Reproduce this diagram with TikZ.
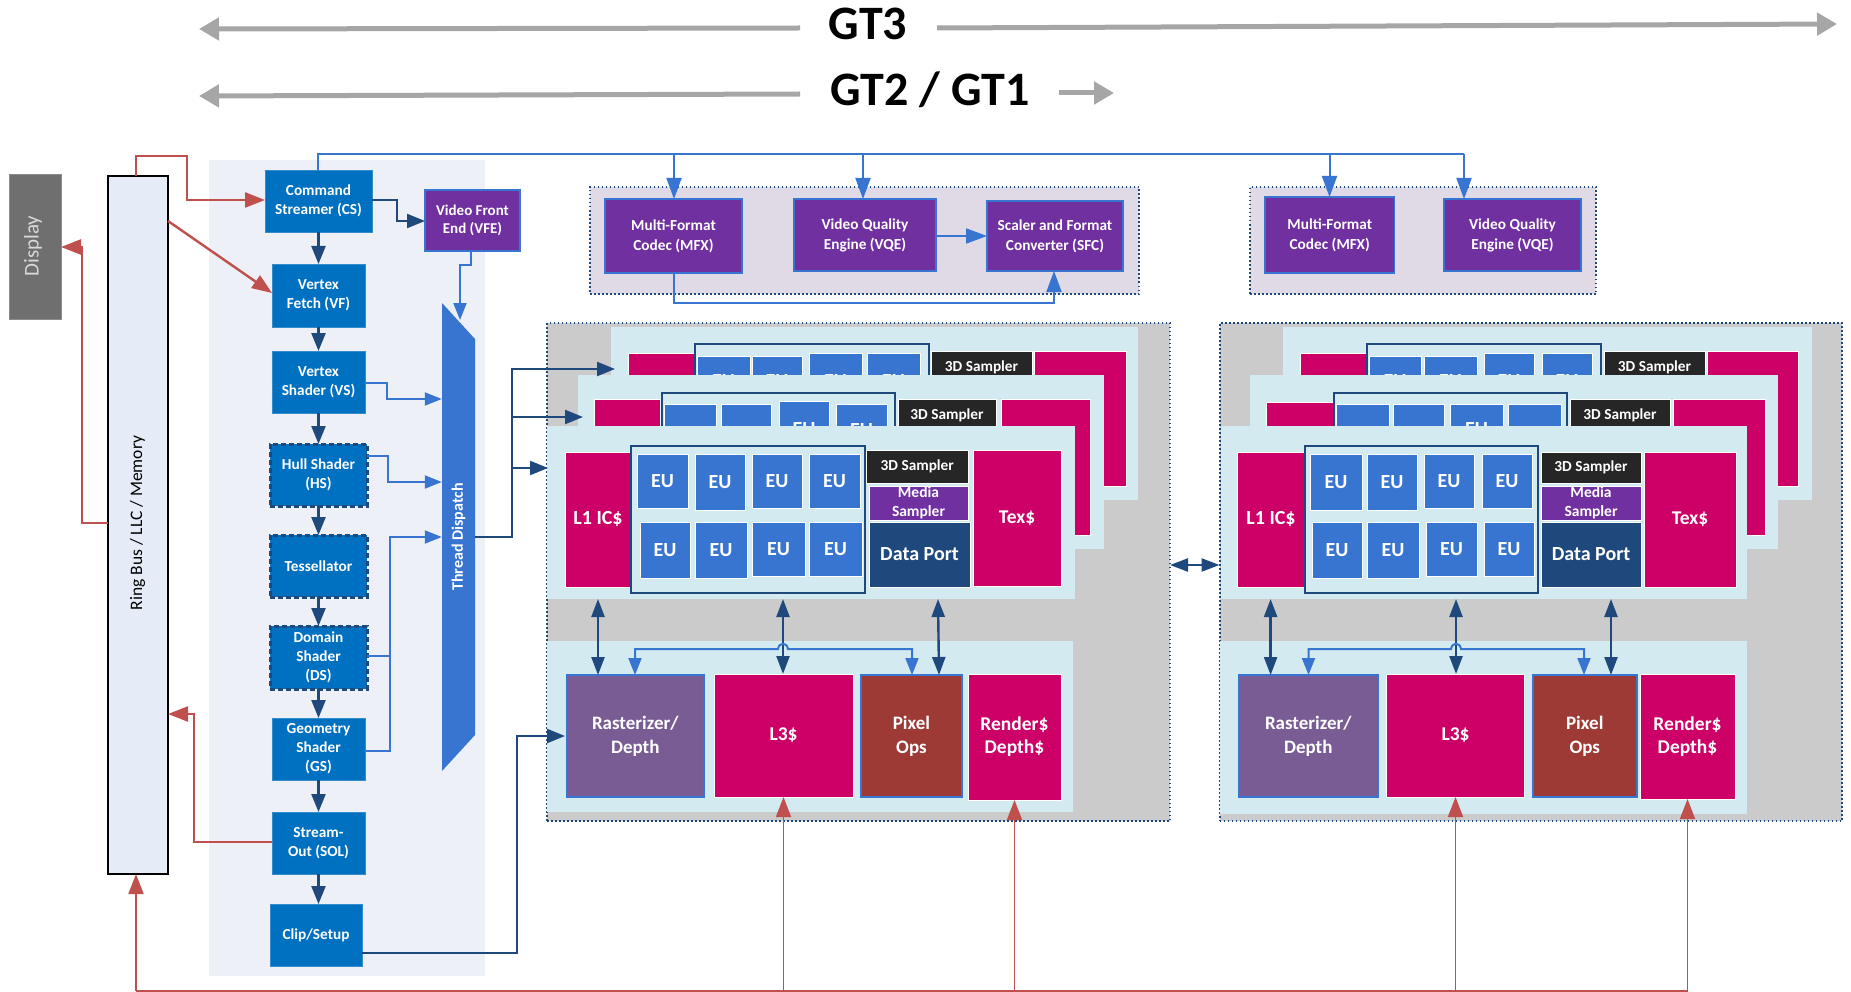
\documentclass[tikz,border=0pt]{standalone}
\usepackage{fontspec}
\setmainfont{Carlito}
\usetikzlibrary{arrows.meta,calc}
\definecolor{cred}{HTML}{C0504D}
\definecolor{cdark}{HTML}{1F497D}
\definecolor{cblue}{HTML}{3875D0}
\definecolor{cbox}{HTML}{0070C0}
\definecolor{cpurple}{HTML}{7030A0}
\definecolor{cmag}{HTML}{CC0066}
\definecolor{cblack}{HTML}{262626}
\definecolor{clight}{HTML}{D2EAF0}
\definecolor{cgray}{HTML}{CBCBCB}
\definecolor{cpanel}{HTML}{EDF0F6}
\definecolor{cring}{HTML}{E6ECF7}
\definecolor{cdisp}{HTML}{6F6F6F}
\definecolor{cmedia}{HTML}{E0DAE7}
\definecolor{craster}{HTML}{7A5C95}
\definecolor{cpixel}{HTML}{9E3A36}
\definecolor{carrow}{HTML}{A6A6A6}
\newcommand{\bx}[7][]{%
  \pgfmathsetmacro\bxw{#5-(#3)}\pgfmathsetmacro\bxh{#6-(#4)}%
  \node[rectangle,inner sep=0pt,outer sep=0pt,align=center,minimum width=\bxw pt,minimum height=\bxh pt,#1] (#2) at ({(#3+#5)/2},{(#4+#6)/2}) {#7};}
\tikzset{
  wtt/.style 2 args={text=white,font=\fontsize{#1}{#2}\selectfont\bfseries},
  pipe/.style={fill=cbox,draw=cbox!80!white,line width=.8pt,wtt={15.3}{19}},
  pipedash/.style={fill=cbox,draw=cdark,line width=3pt,dash pattern=on 5pt off 3pt,wtt={15.3}{19}},
  vid/.style={fill=cpurple,draw=cblue,line width=1.2pt,wtt={15.3}{20}},
  vfebox/.style={fill=cpurple,draw=cblue,line width=1.2pt,wtt={15}{17.5}},
  tile/.style={draw=white,line width=1pt},
  eubox/.style={tile,fill=cblue,wtt={20}{24}},
  magbox/.style={tile,fill=cmag,wtt={19.5}{23}},
  samp/.style={tile,fill=cblack,wtt={15.3}{18}},
  msamp/.style={tile,fill=cpurple,wtt={15.5}{19}},
  dport/.style={tile,fill=cdark,wtt={20}{24}},
  frm/.style={draw=cdark,line width=2pt},
  slicebg/.style={fill=clight},
  cluster/.style={fill=cgray,draw=cdark,line width=2pt,dash pattern=on 1.5pt off 2.5pt},
  mediabg/.style={fill=cmedia,draw=cdark,line width=2pt,dash pattern=on 1.5pt off 2.5pt},
  rasterbox/.style={fill=craster,draw=cblue,line width=2pt,wtt={19}{24}},
  pixelbox/.style={fill=cpixel,draw=cblue,line width=2pt,wtt={19}{24}},
  redline/.style={draw=cred,line width=2.4pt,-{Triangle[length=20pt,width=15pt]}},
  redthin/.style={draw=cred,line width=1.8pt,-{Triangle[length=20pt,width=15pt]}},
  darkline/.style={draw=cdark,line width=2.4pt,-{Triangle[length=18pt,width=14pt]}},
  bothdark/.style={draw=cdark,line width=2.4pt,{Triangle[length=18pt,width=13pt]}-{Triangle[length=18pt,width=13pt]}},
  blueline/.style={draw=cblue,line width=2pt,-{Triangle[length=17pt,width=13pt]}},
  bluedown/.style={draw=cblue,line width=2pt,-{Triangle[length=21pt,width=15pt]}},
  bothblue/.style={draw=cblue,line width=2pt,{Triangle[length=17pt,width=13pt]}-{Triangle[length=17pt,width=13pt]}},
  greyline/.style={draw=carrow,line width=5pt,-{Triangle[length=20pt,width=22pt]}},
  title/.style={text=black,font=\fontsize{48}{50}\selectfont\bfseries,inner sep=0pt},
}
\begin{document}
\begin{tikzpicture}[x=1pt,y=-1pt]
\useasboundingbox (0,0) rectangle (1851,992);
% titles
\node[title] (gtthree) at (868,24) {GT3};
\node[title] (gttwo) at (930,90) {GT2 / GT1};
\coordinate (gtla) at (800,28); \coordinate (gtlb) at (199,29);
\coordinate (gtra) at (937,28); \coordinate (gtrb) at (1837,24);
\coordinate (gsla) at (800,94); \coordinate (gslb) at (199,96);
\coordinate (gsra) at (1059,93); \coordinate (gsrb) at (1114,93);
\draw[greyline] (gtla) -- (gtlb);
\draw[greyline] (gtra) -- (gtrb);
\draw[greyline] (gsla) -- (gslb);
\draw[greyline] (gsra) -- (gsrb);
% left column
\bx[fill=cdisp,draw=cdisp!80!white,line width=.8pt]{display}{9}{174}{61}{319}{}
\node[rotate=90,text=white!85!black,font=\fontsize{21}{23}\selectfont] (displaytxt) at (33,246) {Display};
\bx[fill=cring,draw=black,line width=2.6pt]{ring}{108}{176}{168}{874}{}
\node[rotate=90,text=black,font=\fontsize{17.5}{20}\selectfont] (ringtxt) at (137.5,523) {Ring Bus / LLC / Memory};
\bx[fill=cpanel]{panel}{209}{160}{485}{976}{}
\bx[pipe]{cs}{265}{170}{372}{232}{Command\\Streamer (CS)}
\bx[pipe]{vf}{272}{264}{365}{327}{Vertex\\Fetch (VF)}
\bx[pipe]{vs}{272}{351}{365}{413}{Vertex\\Shader (VS)}
\bx[pipedash]{hs}{270}{444}{367}{506}{Hull Shader\\(HS)}
\bx[pipedash]{tess}{270}{535}{367}{597}{Tessellator}
\bx[pipedash]{ds}{270}{626}{367}{689}{Domain\\Shader\\(DS)}
\bx[pipe]{gs}{272}{718}{365}{780}{Geometry\\Shader\\(GS)}
\bx[pipe]{sol}{272}{812}{365}{874}{Stream-\\Out (SOL)}
\bx[pipe]{clip}{270}{904}{362}{966}{Clip/Setup}
\bx[vfebox]{vfe}{425}{190}{520}{251}{Video Front\\End (VFE)}
\fill[cblue] (442,303) -- (475,339) -- (475,735) -- (442,771) -- cycle;
\node[rotate=90,text=white,font=\fontsize{16}{18}\selectfont\bfseries,inner sep=0pt,minimum width=468pt,minimum height=33pt] (td) at (458.5,537) {\raisebox{-2pt}{Thread Dispatch}};
% media blocks
\bx[mediabg]{mediaA}{590}{187}{1139}{294}{}
\bx[vid]{mfxA}{605}{199}{742}{273}{Multi-Format\\Codec (MFX)}
\bx[vid]{vqeA}{794}{199}{936}{271}{Video Quality\\Engine (VQE)}
\bx[vid]{sfcA}{987}{201}{1123}{271}{Scaler and Format\\Converter (SFC)}
\bx[mediabg]{mediaB}{1250}{187}{1596}{294}{}
\bx[vid]{mfxB}{1265}{197}{1394.5}{273}{Multi-Format\\Codec (MFX)}
\bx[vid]{vqeB}{1444}{199}{1581}{271}{Video Quality\\Engine (VQE)}
% cluster A
\bx[cluster]{clA}{547}{323}{1170}{821}{}
\bx[slicebg]{aTbg}{611}{327}{1138}{500}{}
\bx[magbox]{aTl}{628}{353}{695}{488}{}
\bx[frm]{aTf}{695}{344}{929}{490}{}
\bx[eubox]{aTe1}{697}{356}{750}{406}{EU}
\bx[eubox]{aTe2}{752}{356}{802}{406}{EU}
\bx[eubox]{aTe3}{809}{353}{862}{409}{EU}
\bx[eubox]{aTe4}{867}{353}{920}{409}{EU}
\bx[samp]{aTs}{931}{351}{1032}{384}{3D Sampler}
\bx[magbox]{aTt}{1034}{351}{1126}{486}{}
\bx[slicebg]{aMbg}{578}{375}{1104}{549}{}
\bx[magbox]{aMl}{594}{399}{660}{535}{}
\bx[frm]{aMf}{662}{393}{895}{540}{}
\bx[eubox]{aMe1}{664}{404}{716}{462}{EU}
\bx[eubox]{aMe2}{721}{404}{771}{462}{EU}
\bx[eubox]{aMe3}{779}{401}{829}{458}{EU}
\bx[eubox]{aMe4}{836}{404}{887}{456}{EU}
\bx[samp]{aMs}{898}{399}{996}{432}{3D Sampler}
\bx[magbox]{aMt}{1001}{399}{1090}{535}{}
\bx[slicebg]{aFbg}{547}{426}{1075}{599}{}
\bx[magbox,wtt={20}{24}]{aFl}{565}{452}{631}{587}{L1 IC\$}
\bx[frm]{aFf}{631}{446}{864.5}{593}{}
\bx[eubox]{aFe1}{637}{454}{688}{508}{EU}
\bx[eubox]{aFe2}{695}{454}{745}{510}{EU}
\bx[eubox]{aFe3}{752}{454}{802}{508}{EU}
\bx[eubox]{aFe4}{809}{454}{860}{508}{EU}
\bx[eubox]{aFe5}{640}{522}{690}{578}{EU}
\bx[eubox]{aFe6}{695}{522}{747}{578}{EU}
\bx[eubox]{aFe7}{752}{522}{805}{576}{EU}
\bx[eubox]{aFe8}{809}{522}{862}{576}{EU}
\bx[samp]{aFs}{866.5}{450}{968}{483}{3D Sampler}
\bx[msamp]{aFm}{869}{486}{968}{520}{Media\\Sampler}
\bx[dport]{aFd}{869}{522}{970}{587}{Data Port}
\bx[magbox]{aFt}{973}{450}{1061}{586}{Tex\$}
\bx[slicebg]{aLbg}{547}{641}{1073}{812}{}
\bx[rasterbox]{aR}{566.5}{675}{704}{797}{Rasterizer/\\Depth}
\bx[magbox]{aL}{714}{674}{853}{797}{L3\$}
\bx[pixelbox]{aP}{861}{675}{962}{797}{Pixel\\Ops}
\bx[magbox]{aD}{968}{674}{1061}{800}{Render\$\\Depth\$}
% cluster B
\bx[cluster]{clB}{1219.5}{323}{1842}{821}{}
\bx[slicebg]{bTbg}{1283}{327}{1812}{500}{}
\bx[magbox]{bTl}{1300}{353}{1367}{488}{}
\bx[frm]{bTf}{1367}{344}{1601}{490}{}
\bx[eubox]{bTe1}{1369}{356}{1421}{406}{EU}
\bx[eubox]{bTe2}{1424}{356}{1477}{406}{EU}
\bx[eubox]{bTe3}{1484}{353}{1534}{409}{EU}
\bx[eubox]{bTe4}{1542}{353}{1592}{409}{EU}
\bx[samp]{bTs}{1604}{351}{1705}{384}{3D Sampler}
\bx[magbox]{bTt}{1707}{351}{1798}{486}{}
\bx[slicebg]{bMbg}{1250}{375}{1778}{549}{}
\bx[magbox]{bMl}{1266}{402}{1334}{535}{}
\bx[frm]{bMf}{1334}{393}{1567}{540}{}
\bx[eubox]{bMe1}{1336}{404}{1389}{462}{EU}
\bx[eubox]{bMe2}{1393}{404}{1444}{462}{EU}
\bx[eubox]{bMe3}{1450}{404}{1503}{455}{EU}
\bx[eubox]{bMe4}{1508}{404}{1561}{462}{EU}
\bx[samp]{bMs}{1570}{399}{1670}{432}{3D Sampler}
\bx[magbox]{bMt}{1673}{399}{1765}{535}{}
\bx[slicebg]{bFbg}{1221}{426}{1747}{599}{}
\bx[magbox,wtt={20}{24}]{bFl}{1237}{452}{1305}{587}{L1 IC\$}
\bx[frm]{bFf}{1305}{446}{1538}{593}{}
\bx[eubox]{bFe1}{1310}{454}{1362}{510}{EU}
\bx[eubox]{bFe2}{1367}{454}{1417}{510}{EU}
\bx[eubox]{bFe3}{1424}{454}{1474}{508}{EU}
\bx[eubox]{bFe4}{1482}{454}{1532}{508}{EU}
\bx[eubox]{bFe5}{1312}{522}{1362}{578}{EU}
\bx[eubox]{bFe6}{1367}{522}{1419}{578}{EU}
\bx[eubox]{bFe7}{1426}{522}{1477}{576}{EU}
\bx[eubox]{bFe8}{1484}{522}{1534}{576}{EU}
\bx[samp]{bFs}{1541}{452}{1641}{483}{3D Sampler}
\bx[msamp]{bFm}{1541}{486}{1641}{520}{Media\\Sampler}
\bx[dport]{bFd}{1541}{522}{1641}{587}{Data Port}
\bx[magbox]{bFt}{1644}{452}{1736}{587}{Tex\$}
\bx[slicebg]{bLbg}{1220}{641}{1747}{814}{}
\bx[rasterbox]{bR}{1238.5}{675}{1378}{797}{Rasterizer/\\Depth}
\bx[magbox]{bL}{1386.5}{674}{1524.5}{797}{L3\$}
\bx[pixelbox]{bP}{1533}{675}{1636.5}{797}{Pixel\\Ops}
\bx[magbox]{bD}{1640}{674}{1735}{799}{Render\$\\Depth\$}
% pipeline chain
\draw[darkline] (cs) -- (cs.south |- vf.north);
\draw[darkline] (vf) -- (vs);
\draw[darkline] (vs) -- (hs);
\draw[darkline] (hs) -- (tess);
\draw[darkline] (tess) -- (ds);
\draw[darkline] (ds) -- (gs);
\draw[darkline] (gs) -- (sol);
\draw[darkline] (sol.south) -- (sol.south |- clip.north);
\draw[darkline] (cs.east |- 0,200) -- (397,200) -- (397,221) -- (vfe.west |- 0,221);
% red
\draw[redline] (ring.north -| 136,0) -- (136,156) -- (187,156) -- (187,200) -- (cs.west |- 0,200);
\draw[redline] (ring.east |- 0,221) -- (vf.west |- 0,293);
\draw[redline] (ring.west |- 0,523) -- (82,523) -- (82,247) -- (display.east |- 0,247);
\draw[redline] (sol.west |- 0,842) -- (194,842) -- (194,714) -- (ring.east |- 0,714);
\coordinate (busY) at (136,991);
\draw[redthin] (busY) -- (ring.south -| busY);
\draw[draw=cred,line width=1.8pt] (busY) -- (busY -| bD.south);
\draw[redthin] (aL.south |- busY) -- (aL.south);
\draw[redthin] (aD.south |- busY) -- (aD.south);
\draw[redthin] (bL.south |- busY) -- (bL.south);
\draw[redthin] (bD.south |- busY) -- (bD.south);
% blue pipe to dispatch
\coordinate (tdTip) at (460,320);
\draw[blueline] (vfe.south -| 471,0) -- (471,265) -- (460,265) -- (tdTip);
\draw[blueline] (vs.east |- 0,383) -- (387,383) -- (387,399) -- (td.north |- 0,399);
\draw[blueline] (hs.east |- 0,456) -- (388,456) -- (388,482) -- (td.north |- 0,482);
\draw[blueline] (gs.east |- 0,751) -- (390,751) -- (390,537) -- (td.north |- 0,537);
\draw[draw=cblue,line width=2pt] (ds.east |- 0,656) -- (390,656);
% dispatch out
\coordinate (tipT) at (615,369); \coordinate (tipM) at (583,417); \coordinate (tipF) at (548,468);
\draw[darkline] (td.south |- 0,537) -- (512,537) -- (512,369) -- (tipT);
\draw[darkline] (512,417) -- (tipM);
\draw[darkline] (512,468) -- (tipF);
\coordinate (tipR) at (565,736);
\draw[darkline] (clip.east |- 0,953) -- (517,953) -- (517,736) -- (tipR);
% media
\draw[draw=cblue,line width=2pt] (cs.north -| 318,0) -- (318,154) -- (1464,154);
\draw[bluedown] (674,154) -- (mfxA.north -| 674,0);
\draw[bluedown] (863,154) -- (vqeA.north -| 863,0);
\draw[bluedown] (1329.5,154) -- (mfxB.north -| 1329.5,0);
\draw[bluedown] (1464,154) -- (vqeB.north -| 1464,0);
\draw[bluedown] (vqeA.east |- 0,236) -- (sfcA.west |- 0,236);
\draw[bluedown] (mfxA.south -| 674,0) -- (674,303) -- (1054,303) -- (sfcA.south -| 1054,0);
% cluster links
\draw[bothdark] (clA.east |- 0,565) -- (clB.west |- 0,565);
\draw[bothdark] (aFbg.south -| 598,0) -- (aR.north -| 598,0);
\draw[bothdark] (aFbg.south -| 783,0) -- (aL.north -| 783,0);
\draw[bothdark] (aFbg.south -| 938,0) -- (aP.north -| 939,0);
\draw[bothdark] (bFbg.south -| 1270.6,0) -- (bR.north -| 1270.6,0);
\draw[bothdark] (bFbg.south -| 1456,0) -- (bL.north -| 1456,0);
\draw[bothdark] (bFbg.south -| 1611,0) -- (bP.north -| 1611,0);
\draw[bothblue] (aR.north -| 635,0) -- (635,649) -- (778,649) .. controls (779,642) and (787,642) .. (788,649) -- (912,649) -- (aP.north -| 912,0);
\draw[bothblue] (bR.north -| 1308.5,0) -- (1308.5,649) -- (1451,649) .. controls (1452,642) and (1460,642) .. (1461,649) -- (1584,649) -- (bP.north -| 1584,0);
\end{tikzpicture}
\end{document}
